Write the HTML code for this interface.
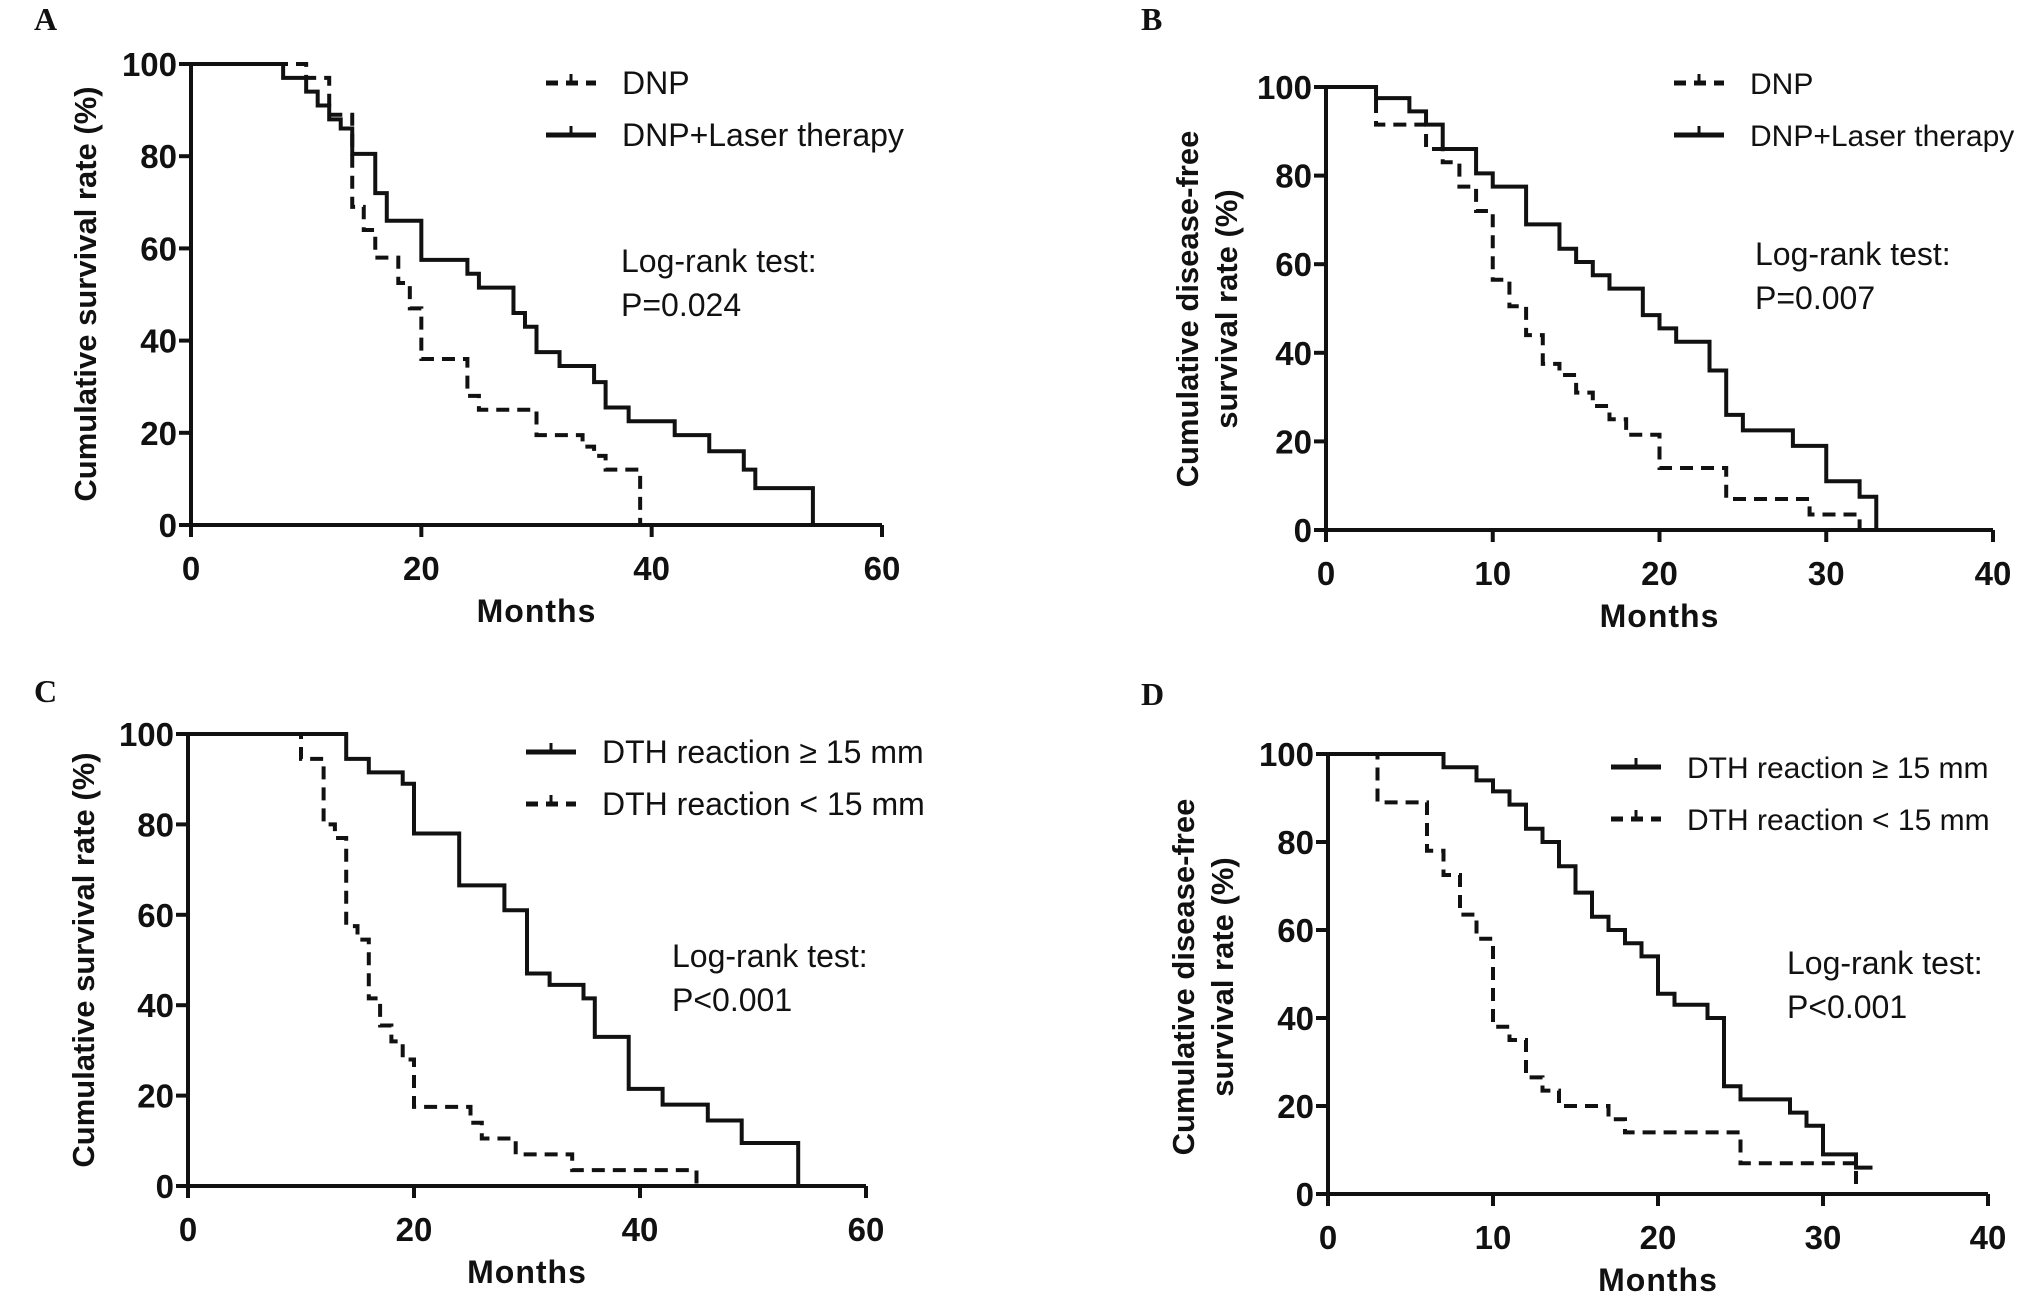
<!DOCTYPE html>
<html><head><meta charset="utf-8">
<style>
html,body{margin:0;padding:0;background:#fff;}
svg{display:block;}
text{font-family:"Liberation Sans",Arial,sans-serif;fill:#111;}
.tick{font-weight:bold;font-size:33px;}
.ttl{font-weight:bold;font-size:31px;}
.mo{font-weight:bold;font-size:32px;letter-spacing:1px;}
.leg{font-size:32px;}
.lab{font-family:"Liberation Serif",serif;font-weight:bold;font-size:32px;}
</style></head>
<body>
<svg id="fig" width="2031" height="1296" viewBox="0 0 2031 1296" xmlns="http://www.w3.org/2000/svg"></svg>
<script>
// Panel A data
const aLaserT=[0,8,10,11,12,13,14,16,17,20,24,25,28,29,30,32,35,36,38,42,45,48,49,54];
const aLaserS=[100,97,94,91,88,86,80.5,72,66,57.5,54.5,51.5,46,43,37.5,34.5,31,25.5,22.5,19.5,16,12,8,0];
const aDnpT=[0,10,12,14,15,16,18,19,20,24,25,30,34,35,36,39];
const aDnpS=[100,97,89,69,64,58,52.5,47,36,28,25,19.5,17,15,12,0];
// Panel B data
const bLaserT=[0,3,5,6,7,9,10,12,14,15,16,17,19,20,21,23,24,25,28,30,32,33];
const bLaserS=[100,97.5,94.5,91.5,86,80.5,77.5,69,63.5,60.5,57.5,54.5,48.5,45.5,42.5,36,26,22.5,19,11,7.5,0];
const bDnpT=[0,3,6,7,8,9,10,11,12,13,14,15,16,17,18,20,24,29,32];
const bDnpS=[100,91.5,86,83,77.5,72,56.5,50.5,44,37.5,35,31,28,25,21.5,14,7,3.5,0];
// Panel C data
const cHighT=[0,14,16,19,20,24,28,30,32,35,36,39,42,46,49,54];
const cHighS=[100,94.5,91.5,89,78,66.5,61,47,44.5,41.5,33,21.5,18,14.5,9.5,0];
const cLowT=[0,10,12,13,14,15,16,17,18,19,20,25,26,29,34,45];
const cLowS=[100,94.5,80,77,57.5,54.5,41.5,35.5,32,28,17.5,14,10.5,7,3.5,0];
// Panel D data
const dHighT=[0,7,9,10,11,12,13,14,15,16,17,18,19,20,21,23,24,25,28,29,30,32,33];
const dHighS=[100,97,94,91.5,88.5,83,80,74.5,68.5,63,60,57,54,45.5,43,40,24.5,21.5,18.5,15.5,9,6,6];
const dLowT=[0,3,6,7,8,9,10,11,12,13,14,17,18,25,32];
const dLowS=[100,89,78,72.5,63.5,58,38,35,26.5,23.5,20,17,14,7,0];
const yTicks=[0,20,40,60,80,100];
const xTicks60=[0,20,40,60];
const xTicks40=[0,10,20,30,40];

const NS="http://www.w3.org/2000/svg";
const svg=document.getElementById('fig');
function mk(tag,attrs,parent){const e=document.createElementNS(NS,tag);for(const k in attrs)e.setAttribute(k,attrs[k]);(parent||svg).appendChild(e);return e;}
function txt(s,attrs,parent){const e=mk('text',attrs,parent);e.textContent=s;return e;}

function panel(p){
  const g=mk('g',{});
  
  
  const xs=t=>p.x0+(p.x1-p.x0)*t/p.xmax;
  const ys=v=>p.y0+(p.y100-p.y0)*v/100;
  const lbl=txt(p.id.toUpperCase(),{x:p.lx,y:p.ly,class:'lab'},g);
  
  
  p.series.forEach(s=>{
    let d='M'+xs(s.t[0])+','+ys(s.s[0]);
    for(let i=1;i<s.t.length;i++){d+=' H'+xs(s.t[i])+' V'+ys(s.s[i]);}
    const path=mk('path',{d:d,fill:'none',stroke:'#111','stroke-width':4,'stroke-dasharray':s.dash?'13,8':'none'},g);
    
    
  });
  const ax=mk('path',{d:'M'+p.x0+','+p.y100+' V'+p.y0+' H'+p.x1,fill:'none',stroke:'#111','stroke-width':4},g);
  
  
  yTicks.forEach(v=>{
    mk('line',{x1:p.x0-12,x2:p.x0,y1:ys(v),y2:ys(v),stroke:'#111','stroke-width':4},g);
    const t=txt(String(v),{x:p.x0-14,y:ys(v)+12,'text-anchor':'end',class:'tick'},g);
    
    
  });
  p.xt.forEach(v=>{
    mk('line',{x1:xs(v),x2:xs(v),y1:p.y0,y2:p.y0+12,stroke:'#111','stroke-width':4},g);
    const t=txt(String(v),{x:xs(v),y:p.y0+55,'text-anchor':'middle',class:'tick'},g);
    
    
  });
  const xt=txt('Months',{x:(p.x0+p.x1)/2,y:p.y0+97,'text-anchor':'middle',class:'mo'},g);
  
  
  p.ytitle.forEach((line,i)=>{
    const yt=txt(line,{x:0,y:0,'text-anchor':'middle',class:'ttl',transform:'translate('+(p.ytx+i*39)+','+p.yty+') rotate(-90)'},g);
    
    
  });
  p.legend.forEach((L,i)=>{
    const yy=p.legy+i*52;
    const ln=mk('line',{x1:p.legx,x2:p.legx+50,y1:yy,y2:yy,stroke:'#111','stroke-width':5,'stroke-dasharray':L.dash?'12,8':'none'},g);
    
    
    mk('line',{x1:p.legx+25,x2:p.legx+25,y1:yy-9,y2:yy,stroke:'#111','stroke-width':3},g);
    const t=txt(L.text,{x:p.legx+76,y:yy+11,class:'leg',style:'font-size:'+p.legfs+'px'},g);
    
    
  });
  const s1=txt('Log-rank test:',{x:p.sx,y:p.sy,class:'leg'},g);
  
  
  const s2=txt(p.pval,{x:p.sx,y:p.sy+44,class:'leg'},g);
  
  
}

panel({id:'a',x0:191,x1:882,xmax:60,y0:525,y100:64,xt:xTicks60,lx:34,ly:30,
  ytitle:['Cumulative survival rate (%)'],ytx:96,yty:294,legfs:32,
  legx:546,legy:83,legend:[{text:'DNP',dash:true},{text:'DNP+Laser therapy',dash:false}],
  sx:621,sy:272,pval:'P=0.024',
  series:[{t:aDnpT,s:aDnpS,dash:true,name:'dnp-curve'},{t:aLaserT,s:aLaserS,dash:false,name:'laser-curve'}]});
panel({id:'b',x0:1326,x1:1993,xmax:40,y0:530,y100:87,xt:xTicks40,lx:1141,ly:30,
  ytitle:['Cumulative disease-free','survival rate (%)'],ytx:1198,yty:309,legfs:30,
  legx:1674,legy:83,legend:[{text:'DNP',dash:true},{text:'DNP+Laser therapy',dash:false}],
  sx:1755,sy:265,pval:'P=0.007',
  series:[{t:bDnpT,s:bDnpS,dash:true,name:'dnp-curve'},{t:bLaserT,s:bLaserS,dash:false,name:'laser-curve'}]});
panel({id:'c',x0:188,x1:866,xmax:60,y0:1186,y100:734,xt:xTicks60,lx:34,ly:702,
  ytitle:['Cumulative survival rate (%)'],ytx:94,yty:960,legfs:32,
  legx:526,legy:752,legend:[{text:'DTH reaction \u2265 15 mm',dash:false},{text:'DTH reaction < 15 mm',dash:true}],
  sx:672,sy:967,pval:'P<0.001',
  series:[{t:cLowT,s:cLowS,dash:true,name:'dth-low-curve'},{t:cHighT,s:cHighS,dash:false,name:'dth-high-curve'}]});
panel({id:'d',x0:1328,x1:1988,xmax:40,y0:1194,y100:754,xt:xTicks40,lx:1141,ly:705,
  ytitle:['Cumulative disease-free','survival rate (%)'],ytx:1194,yty:977,legfs:30,
  legx:1611,legy:767,legend:[{text:'DTH reaction \u2265 15 mm',dash:false},{text:'DTH reaction < 15 mm',dash:true}],
  sx:1787,sy:974,pval:'P<0.001',
  series:[{t:dLowT,s:dLowS,dash:true,name:'dth-low-curve'},{t:dHighT,s:dHighS,dash:false,name:'dth-high-curve'}]});
</script>
</body></html>
